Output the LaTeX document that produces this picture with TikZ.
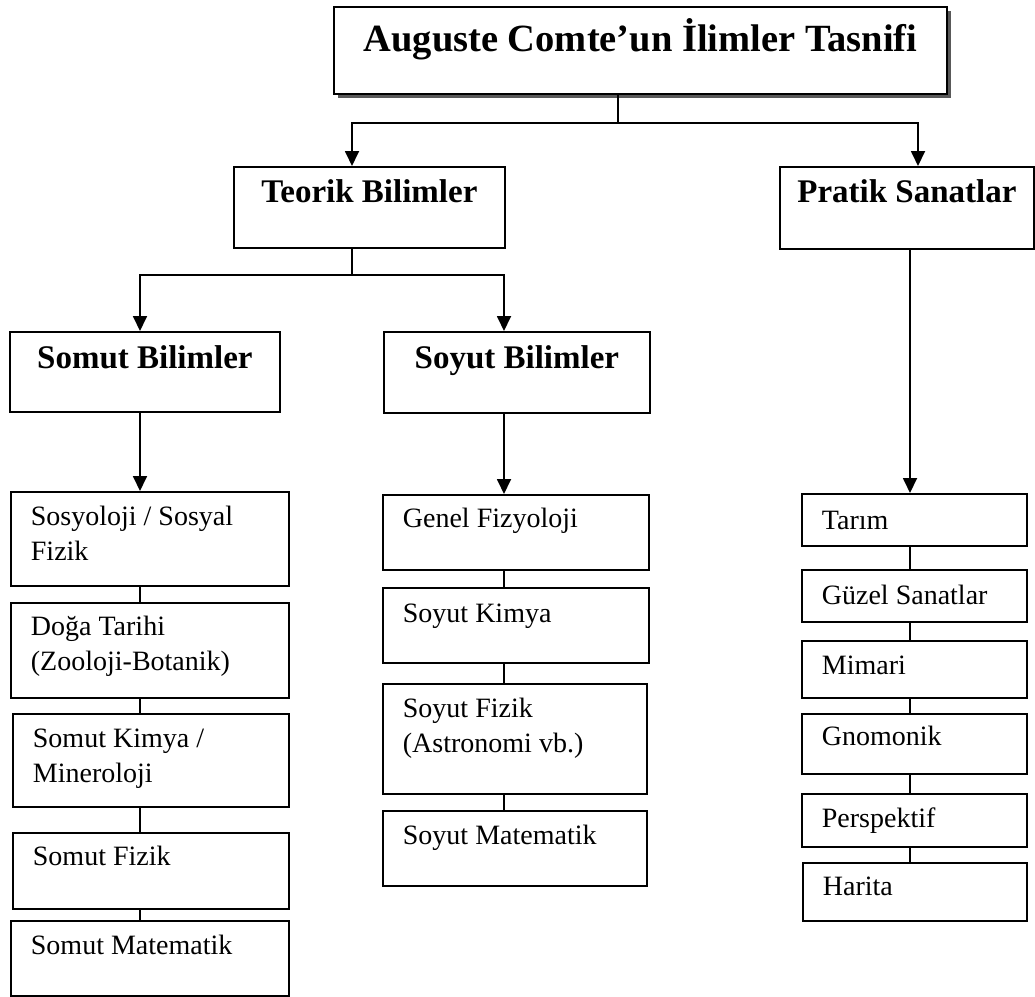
\documentclass[tikz,border=0pt]{standalone}
\usepackage{fontspec}
\setmainfont{Liberation Serif}
\usetikzlibrary{arrows.meta,shadows}
\newcommand\itemfont{\fontsize{28}{35}\selectfont}
\newcommand\headfont{\fontsize{33}{38}\bfseries\selectfont}
\newcommand\titlefont{\fontsize{38.5}{44}\bfseries\selectfont}
% name, x1, y1, x2, y2, baseline offset, text
\newcommand\itembox[7]{%
  \node[bx, anchor=north west] (#1) at (#2,#3)
   {\parbox[c][\dimexpr#5pt-#3pt\relax][t]{\dimexpr#4pt-#2pt\relax}{\itemfont\raggedright\leftskip=20pt\rule{0pt}{\dimexpr#6pt+2pt\relax}#7}};}
\newcommand\headbox[7]{%
  \node[bx, anchor=north west] (#1) at (#2,#3)
   {\parbox[c][\dimexpr#5pt-#3pt\relax][t]{\dimexpr#4pt-#2pt\relax}{\headfont\centering\rule{0pt}{#6pt}#7}};}
\tikzset{
  bx/.style={draw, line width=1.8pt, inner sep=0pt, fill=white},
  ln/.style={line width=1.6pt},
  arr/.style={line width=1.8pt, -{Triangle[width=14pt,length=15pt]}},
}
\begin{document}
\begin{tikzpicture}[x=1pt,y=-1pt]
\useasboundingbox (0,0) rectangle (1035,996);
% title
\node[bx, anchor=north west, drop shadow={shadow xshift=4pt, shadow yshift=-4pt, fill=black!65, opacity=1}] (title) at (333,6)
  {\parbox[c][87pt][t]{613pt}{\titlefont\centering\rule{0pt}{45pt}Auguste Comte’un İlimler Tasnifi}};
% second level
\headbox{teorik}{233}{166}{504}{247}{36}{Teorik Bilimler}
\headbox{pratik}{779}{166}{1033}{248}{36}{Pratik Sanatlar}
% third level
\headbox{somut}{9}{331}{279}{411}{37}{Somut Bilimler}
\headbox{soyut}{383}{331}{649}{412}{37}{Soyut Bilimler}
% left column
\itembox{sos}{10}{491}{288}{585}{32}{Sosyoloji / Sosyal\\Fizik}
\itembox{doga}{10}{602}{288}{697}{31}{Doğa Tarihi\\(Zooloji-Botanik)}
\itembox{skim}{12}{713}{288}{806}{32}{Somut Kimya /\\Mineroloji}
\itembox{sfiz}{12}{832}{288}{908}{31}{Somut Fizik}
\itembox{smat}{10}{920}{288}{995}{32}{Somut Matematik}
% middle column
\itembox{gen}{382}{494}{648}{569}{31}{Genel Fizyoloji}
\itembox{ykim}{382}{587}{648}{662}{33}{Soyut Kimya}
\itembox{yfiz}{382}{683}{646}{793}{32}{Soyut Fizik\\(Astronomi vb.)}
\itembox{ymat}{382}{810}{646}{885}{32}{Soyut Matematik}
% right column
\itembox{tarim}{801}{493}{1026}{545}{34}{Tarım}
\itembox{guzel}{801}{569}{1026}{621}{33}{Güzel Sanatlar}
\itembox{mimari}{801}{640}{1026}{697}{32}{Mimari}
\itembox{gnom}{801}{713}{1026}{773}{30}{Gnomonik}
\itembox{persp}{801}{793}{1026}{846}{32}{Perspektif}
\itembox{harita}{802}{862}{1026}{920}{31}{Harita}
% connector guide coordinates
\coordinate (cT) at (618,123);
\coordinate (cA) at (352,0);
\coordinate (cB) at (918,0);
\coordinate (cJ) at (352,275);
\coordinate (cL) at (140,0);
\coordinate (cM) at (504,0);
\coordinate (cR) at (910,0);
% connectors
\draw[ln] (title.south -| cT) -- (cT);
\draw[arr] (cT) -| (teorik.north -| cA);
\draw[arr] (cT) -| (pratik.north -| cB);
\draw[ln] (teorik.south -| cA) -- (cJ);
\draw[arr] (cJ) -| (somut.north -| cL);
\draw[arr] (cJ) -| (soyut.north -| cM);
\draw[arr] (somut.south -| cL) -- (sos.north -| cL);
\draw[arr] (soyut.south -| cM) -- (gen.north -| cM);
\draw[arr] (pratik.south -| cR) -- (tarim.north -| cR);
\draw[ln] (sos.south -| cL) -- (doga.north -| cL);
\draw[ln] (doga.south -| cL) -- (skim.north -| cL);
\draw[ln] (skim.south -| cL) -- (sfiz.north -| cL);
\draw[ln] (sfiz.south -| cL) -- (smat.north -| cL);
\draw[ln] (gen.south -| cM) -- (ykim.north -| cM);
\draw[ln] (ykim.south -| cM) -- (yfiz.north -| cM);
\draw[ln] (yfiz.south -| cM) -- (ymat.north -| cM);
\draw[ln] (tarim.south -| cR) -- (guzel.north -| cR);
\draw[ln] (guzel.south -| cR) -- (mimari.north -| cR);
\draw[ln] (mimari.south -| cR) -- (gnom.north -| cR);
\draw[ln] (gnom.south -| cR) -- (persp.north -| cR);
\draw[ln] (persp.south -| cR) -- (harita.north -| cR);
\end{tikzpicture}
\end{document}
